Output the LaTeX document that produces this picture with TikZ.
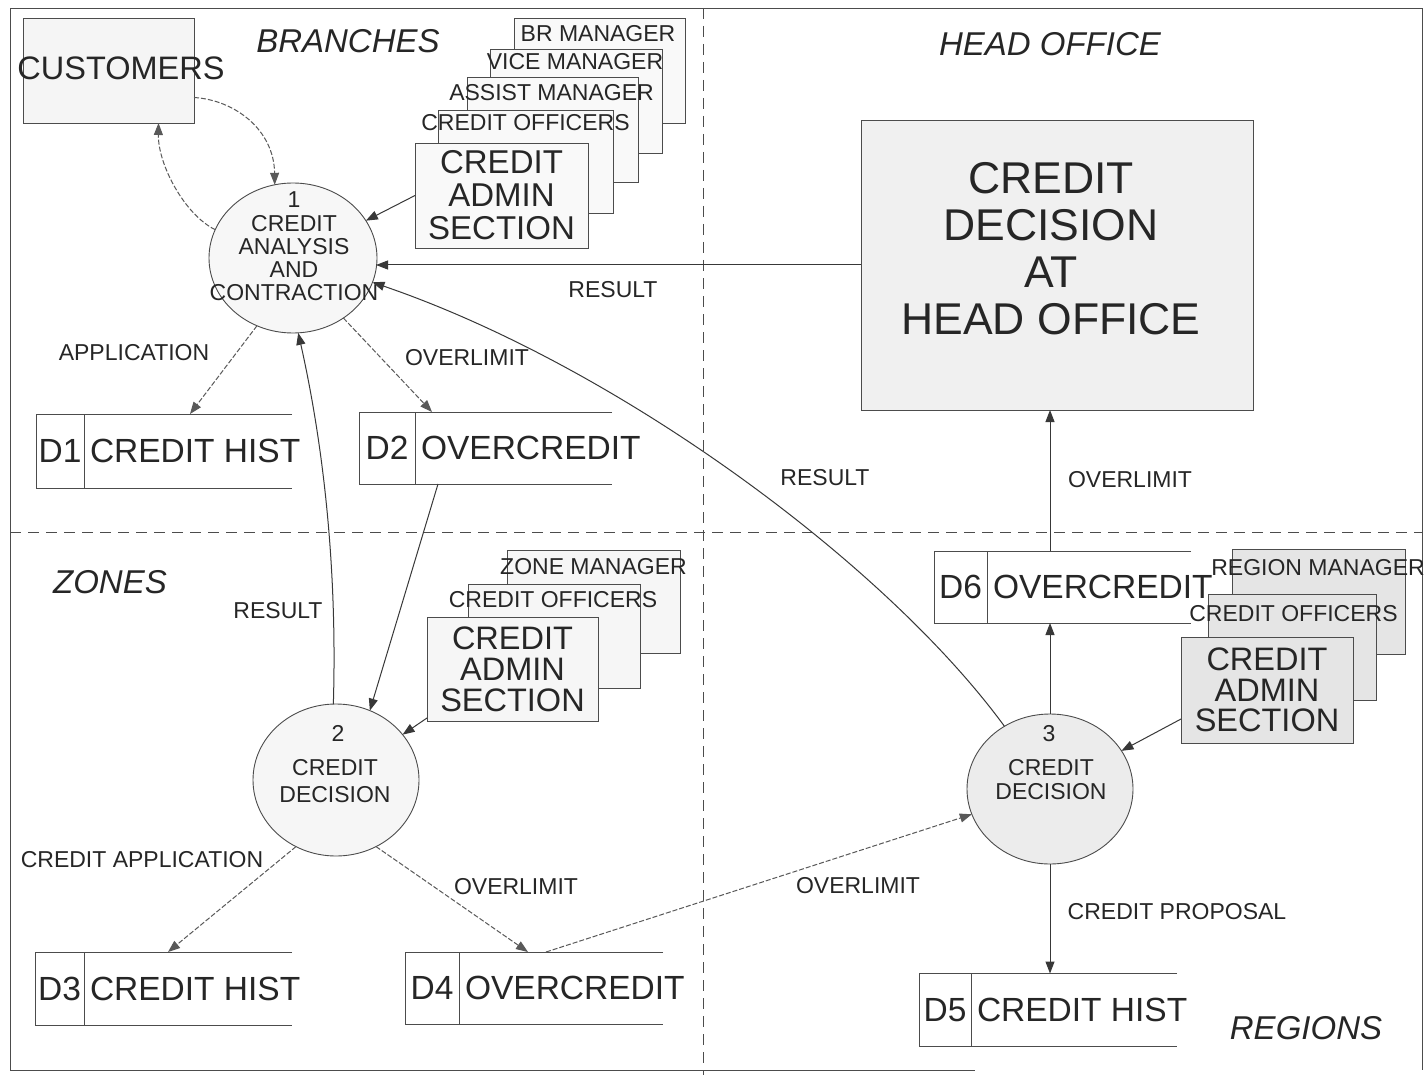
\documentclass[tikz,border=0pt]{standalone}
\usepackage{fontspec}
\setmainfont{Liberation Sans}
\usetikzlibrary{arrows.meta,shapes.geometric,calc}
\newcommand\dstore[8]{%
  \node[minimum width=#4pt, minimum height=#5pt] (#1) at (#2,#3) {};
  \draw[storeline] (#1.north east) -- (#1.north west) -- (#1.south west) -- (#1.south east);
  \draw[storeline] ([xshift=#6pt]#1.north west) -- ([xshift=#6pt]#1.south west);
  \node[bigtxt] (#1id) at ([xshift=#6pt/2]#1.west) {#7};
  \node[bigtxt, anchor=west] (#1tx) at ([xshift=#6pt+6pt]#1.west) {#8};
}
\begin{document}
\begin{tikzpicture}[x=1pt,y=-1pt,
  every node/.style={inner sep=0pt, outer sep=0pt, text=black!85},
  ln/.style={draw=black!78, line width=1pt},
  arr/.style={ln, -{Triangle[length=12pt,width=9pt]}},
  darr/.style={arr, dash pattern=on 5pt off 2pt, draw=black!65},
  proc/.style={ellipse, draw=black!70, line width=0.9pt, minimum width=168pt, minimum height=150pt},
  pbox/.style={rectangle, draw=black!70, line width=0.9pt},
  stkb/.style={pbox, fill=gray!5},
  stkz/.style={pbox, fill=gray!7},
  stkr/.style={pbox, fill=gray!20},
  lbl/.style={font=\fontsize{23}{23}\selectfont},
  regtxt/.style={font=\fontsize{33}{33}\selectfont\itshape},
  stklbl/.style={font=\fontsize{23}{23}\selectfont},
  bigtxt/.style={font=\fontsize{33.5}{33}\selectfont},
  ctxt/.style={font=\fontsize{23}{23.25}\selectfont, align=center},
  storeline/.style={draw=black!70, line width=0.9pt},
  border/.style={draw=black!70, line width=0.9pt},
  sep/.style={draw=black!70, line width=0.9pt, dash pattern=on 11pt off 7pt},
]
\useasboundingbox[fill=white] (0,0) rectangle (1426,1075);

% frame and quadrant separators
\draw[sep] (703,8) -- (703,1075);
\draw[sep] (10,532) -- (1422,532);
\draw[border] (10,1070) -- (10,8) -- (1422,8) -- (1422,1070);
\draw[border] (10,1070) -- (975,1070);

% quadrant titles
\node[regtxt] (tbr) at (348,41) {BRANCHES};
\node[regtxt] (tho) at (1050,44) {HEAD OFFICE};
\node[regtxt] (tzo) at (110,582) {ZONES};
\node[regtxt] (tre) at (1306,1028) {REGIONS};

% customers
\node[pbox, fill=gray!8, minimum width=171pt, minimum height=105pt] (cust) at (108.5,70.5) {};
\node[font=\fontsize{32.5}{32}\selectfont] (custt) at (121,68) {CUSTOMERS};

% branch stack
\node[stkb, minimum width=171pt, minimum height=105pt] (bm) at (599.5,70.5) {};
\node[stklbl] (bmt) at (598,34) {BR MANAGER};
\node[stkb, minimum width=172pt, minimum height=104pt] (vm) at (576,101) {};
\node[stklbl] (vmt) at (575,62) {VICE MANAGER};
\node[stkb, minimum width=171pt, minimum height=105pt] (am) at (552.5,129.5) {};
\node[stklbl] (amt) at (551.5,93) {ASSIST MANAGER};
\node[stkb, minimum width=175pt, minimum height=103pt] (co1) at (525.5,161.5) {};
\node[stklbl] (co1t) at (525.5,123) {CREDIT OFFICERS};
\node[stkb, minimum width=173pt, minimum height=105pt, align=center, font=\fontsize{33}{33}\selectfont] (ad1) at (501.5,195.5) {CREDIT\\ADMIN\\SECTION};

% zone stack
\node[stkz, minimum width=173pt, minimum height=103pt] (zm) at (593.5,601.5) {};
\node[stklbl] (zmt) at (593.5,567) {ZONE MANAGER};
\node[stkz, minimum width=172pt, minimum height=104pt] (co2) at (554,636) {};
\node[stklbl] (co2t) at (553,600) {CREDIT OFFICERS};
\node[stkz, minimum width=171pt, minimum height=104pt, align=center, font=\fontsize{32.5}{31}\selectfont] (ad2) at (512.5,669) {CREDIT\\ADMIN\\SECTION};

% region stack
\node[stkr, minimum width=173pt, minimum height=105pt] (rm) at (1318.5,601.5) {};
\node[stklbl] (rmt) at (1318,568) {REGION MANAGER};
\node[stkr, minimum width=168pt, minimum height=106pt] (co3) at (1292,647) {};
\node[stklbl] (co3t) at (1293.5,614) {CREDIT OFFICERS};
\node[stkr, minimum width=172pt, minimum height=106pt, align=center, font=\fontsize{32.5}{30.5}\selectfont] (ad3) at (1267,690) {CREDIT\\ADMIN\\SECTION};

% head office
\node[pbox, fill=gray!12, minimum width=392pt, minimum height=290pt] (ho) at (1057,265) {};
\node[font=\fontsize{44.5}{47}\selectfont, align=center] (hot) at (1051,249) {CREDIT\\DECISION\\AT\\HEAD OFFICE};

% processes
\node[proc, fill=gray!6] (c1) at (293,258) {};
\node[ctxt] (c1t) at (294,246.5) {1\\CREDIT\\ANALYSIS\\AND\\CONTRACTION};
\node[proc, fill=gray!7, minimum width=166pt, minimum height=152pt] (c2) at (336,780) {};
\node[ctxt] (c2n) at (338,733) {2};
\node[ctxt, font=\fontsize{23}{27}\selectfont] (c2t) at (335,781.5) {CREDIT\\DECISION};
\node[proc, fill=gray!15, minimum width=166pt, minimum height=150pt] (c3) at (1050,789) {};
\node[ctxt] (c3n) at (1049,734) {3};
\node[ctxt] (c3t) at (1051,779.5) {CREDIT\\DECISION};

% data stores
\dstore{d1}{164}{451}{256}{74}{48}{D1}{CREDIT HIST}
\dstore{d2}{485.5}{448}{253}{72}{56}{D2}{OVERCREDIT}
\dstore{d3}{163.5}{988.5}{257}{73}{49}{D3}{CREDIT HIST}
\dstore{d4}{534}{988}{258}{72}{54}{D4}{OVERCREDIT}
\dstore{d5}{1048}{1010}{258}{73}{52}{D5}{CREDIT HIST}
\dstore{d6}{1062.5}{587}{257}{72}{53}{D6}{OVERCREDIT}

% flows
\draw[darr] ([yshift=-27pt]cust.east) .. controls (235,100) and (274,130) .. (c1.104);
\draw[darr] (c1.160) .. controls (185,215) and (158,165) .. ([xshift=50pt]cust.south);
\draw[arr] (ad1.west) -- (c1);
\draw[arr] (ho.west) -- ([xshift=-1pt]c1.east |- ho.west);
\draw[arr] (c3.126) .. controls (885,563) and (617,366) .. (c1.-17);
\draw[darr] (c1.-118) -- ([xshift=154pt]d1.north west);
\draw[darr] (c1.-50) -- ([xshift=73pt]d2.north west);
\draw[arr] (c2.92) .. controls (337,580) and (326,457) .. (c1.-86);
\draw[arr] ([xshift=79pt]d2.south west) -- (c2.64);
\draw[arr] ([yshift=3pt]ad2.south west) -- (c2);
\draw[darr] (c2.-121) -- ([xshift=133pt]d3.north west);
\draw[darr] (c2.-59) -- ([xshift=123pt]d4.north west);
\draw[darr] ([xshift=141pt]d4.north west) -- (c3);
\draw[arr] (c3.north) -- (c3.north |- d6.south);
\draw[arr] (c3.north |- d6.north) -- (c3.north |- ho.south);
\draw[arr] (c3.south) -- (c3.south |- d5.north);
\draw[arr] ([yshift=-29pt]ad3.west) -- (c3);

% flow labels
\node[lbl] (lres1) at (613,290) {RESULT};
\node[lbl] (lapp) at (134,353) {APPLICATION};
\node[lbl] (lov1) at (467,358) {OVERLIMIT};
\node[lbl] (lres2) at (825,478) {RESULT};
\node[lbl] (lov2) at (1130,480) {OVERLIMIT};
\node[lbl] (lres3) at (278,611) {RESULT};
\node[lbl] (lcapp) at (142,860) {CREDIT APPLICATION};
\node[lbl] (lov3) at (516,887) {OVERLIMIT};
\node[lbl] (lov4) at (858,886) {OVERLIMIT};
\node[lbl] (lprop) at (1177,912) {CREDIT PROPOSAL};
\end{tikzpicture}
\end{document}
